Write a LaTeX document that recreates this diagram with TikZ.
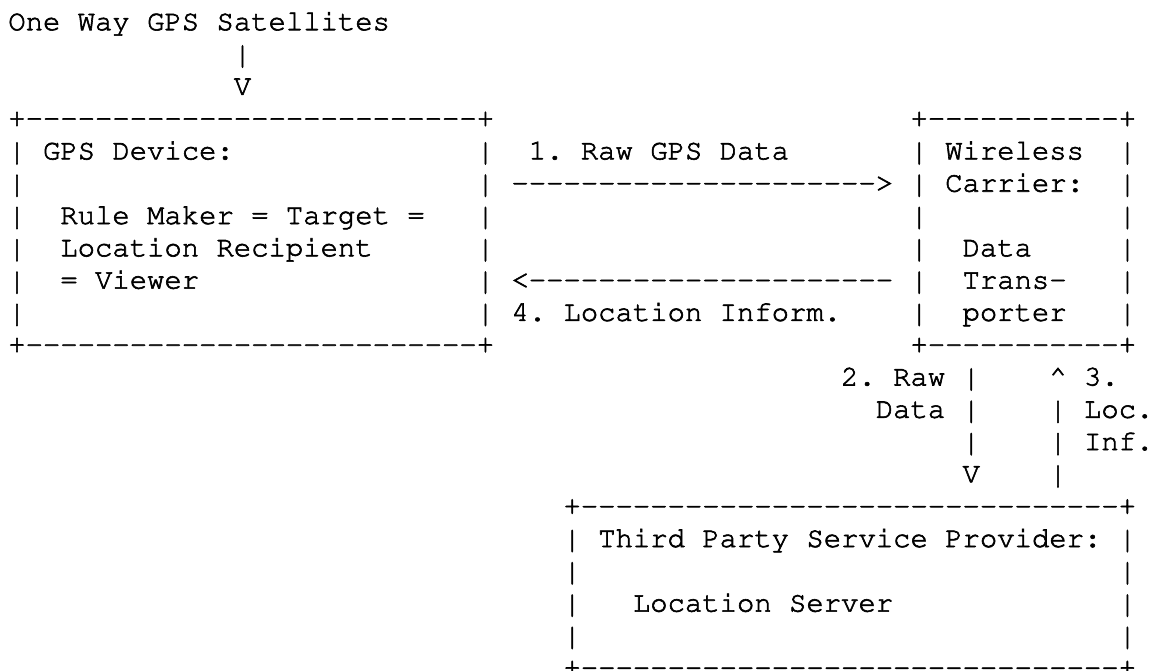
\documentclass[tikz,border=0pt]{standalone}
\usepackage[T1]{fontenc}
\usepackage{courier}
\usepackage{graphicx}
\frenchspacing

% a run of hyphens that never turns into en/em dashes
\newcount\dashcnt
\newcommand\dashrun[1]{\dashcnt=#1\relax\loop\ifnum\dashcnt>0 -{}\advance\dashcnt by -1\relax\repeat}
% a horizontal box edge: +----...----+
\newcommand\boxedge[1]{+\dashrun{#1}+}
% a vertical bar stretched to nearly the full line height
\newcommand\vbar{\raisebox{-4.5pt}{\resizebox{\width}{15pt}{\raisebox{\depth}{|}}}}

\tikzset{
  ascii/.style={anchor=base west, inner sep=0pt, outer sep=0pt,
    font=\ttfamily\fontsize{14.458pt}{16.15pt}\selectfont,
    execute at begin node={\special{pdf:literal direct 2 Tr 0.3 w}}},
}
% one piece of text placed at character column #1 of line #2
\newcommand\cell[3]{\node[ascii] (r#2-c#1) at (#1,#2) {#3};}

\begin{document}
\begin{tikzpicture}[x=8.675pt, y=-16.15pt]
  \fill[white] (-4.15pt,15.1pt) rectangle (570.85pt,-319.9pt);
  \useasboundingbox (-4.15pt,15.1pt) rectangle (570.85pt,-319.9pt);

  % satellites feeding the GPS device
  \cell{0}{0}{One Way GPS Satellites}
  \cell{13}{1}{\vbar}
  \cell{13}{2}{V}

  % GPS device box and wireless carrier box
  \cell{0}{3}{\boxedge{26}}
  \cell{52}{3}{\boxedge{11}}
  \foreach \r in {4,...,9} {
    \cell{0}{\r}{\vbar}
    \cell{27}{\r}{\vbar}
    \cell{52}{\r}{\vbar}
    \cell{64}{\r}{\vbar}
  }
  \cell{2}{4}{GPS Device:}
  \cell{3}{6}{Rule Maker = Target =}
  \cell{3}{7}{Location Recipient}
  \cell{3}{8}{= Viewer}

  \cell{54}{4}{Wireless}
  \cell{54}{5}{Carrier:}
  \cell{55}{7}{Data}
  \cell{55}{8}{Trans-}
  \cell{55}{9}{porter}

  % messages between the device and the carrier
  \cell{30}{4}{1. Raw GPS Data}
  \cell{29}{5}{\dashrun{21}>}
  \cell{29}{8}{<\dashrun{21}}
  \cell{29}{9}{4. Location Inform.}

  \cell{0}{10}{\boxedge{26}}
  \cell{52}{10}{\boxedge{11}}

  % messages between the carrier and the location server
  \cell{48}{11}{2. Raw}
  \cell{50}{12}{Data}
  \foreach \r in {11,12,13} { \cell{55}{\r}{\vbar} }
  \cell{55}{14}{V}
  \cell{60}{11}{\textasciicircum}
  \foreach \r in {12,13,14} { \cell{60}{\r}{\vbar} }
  \cell{62}{11}{3.}
  \cell{62}{12}{Loc.}
  \cell{62}{13}{Inf.}

  % third party service provider box
  \cell{32}{15}{\boxedge{31}}
  \foreach \r in {16,...,19} {
    \cell{32}{\r}{\vbar}
    \cell{64}{\r}{\vbar}
  }
  \cell{34}{16}{Third Party Service Provider:}
  \cell{36}{18}{Location Server}
  \cell{32}{20}{\boxedge{31}}
\end{tikzpicture}
\end{document}
